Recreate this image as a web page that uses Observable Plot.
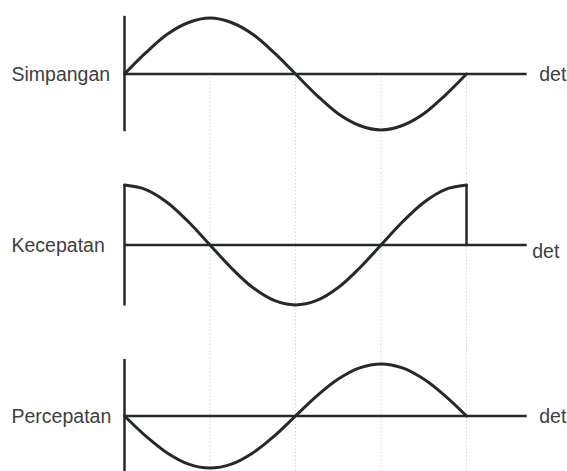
<!DOCTYPE html>
<html>
<head>
<meta charset="utf-8">
<script src="https://cdn.jsdelivr.net/npm/d3@7"></script>
<script src="https://cdn.jsdelivr.net/npm/@observablehq/plot@0.6"></script>
<style>
  html, body { margin: 0; padding: 0; background: #ffffff; }
  #chart { width: 567px; height: 471px; overflow: hidden; }
</style>
</head>
<body>
<div id="chart"></div>
<script>
// Panels (row labels) and axis unit
const panels = ["Simpangan", "Kecepatan", "Percepatan"];
const unitLabel = "det";

// Time, in quarter periods
const t = [0, 0.25, 0.5, 0.75, 1, 1.25, 1.5, 1.75, 2, 2.25, 2.5, 2.75, 3, 3.25, 3.5, 3.75, 4];

// Values (relative units)
const simpangan  = [0, 0.38, 0.71, 0.92, 1.0, 0.92, 0.71, 0.38, 0, -0.38, -0.71, -0.92, -1.0, -0.92, -0.71, -0.38, 0];
const kecepatan  = [1.07, 0.99, 0.76, 0.41, 0, -0.41, -0.76, -0.99, -1.07, -0.99, -0.76, -0.41, 0, 0.41, 0.76, 0.99, 1.07];
const percepatan = [0, -0.36, -0.66, -0.86, -0.93, -0.86, -0.66, -0.36, 0, 0.36, 0.66, 0.86, 0.93, 0.86, 0.66, 0.36, 0];

// Extent of the time axis line (in quarter periods)
const axisEnd = 4.71;
// Vertical axis extent per panel [bottom, top]
const vAxisSpan = [[-1.03, 1.03], [-1.09, 1.07], [-1.3, 1.01]];
// Faint dotted guides at quarter periods, span per panel [from, to]
const guideT = [1, 2, 3, 4];
const guideSpan = [[0, -1.8], [-1.8, 1.3], [-1.8, 1.3]];

const series = [simpangan, kecepatan, percepatan];
const rows = panels.flatMap((p, i) => t.map((tt, j) => ({panel: p, t: tt, v: series[i][j]})));
const axisRows = panels.map((p, i) => ({panel: p, y1: vAxisSpan[i][0], y2: vAxisSpan[i][1]}));
const guideRows = panels.flatMap((p, i) => guideT.map(g => ({panel: p, t: g, y1: guideSpan[i][0], y2: guideSpan[i][1]})));
const dropRows = [{panel: panels[1], t: t[t.length - 1], y1: 0, y2: kecepatan[kecepatan.length - 1]}];

const ink = "#242a2a";
const textInk = "#404040";
const chart = Plot.plot({
  width: 567,
  height: 471,
  margin: 0,
  style: {background: "#ffffff", fontFamily: "'Liberation Sans', Arial, sans-serif"},
  x: {domain: [0, 4], range: [124, 466], axis: null},
  y: {domain: [-1, 1], range: [128.5, 16.5], axis: null},
  fy: {domain: panels, range: [0, 514.5], padding: 0, axis: null},
  marks: [
    Plot.ruleX(guideRows, {fy: "panel", x: "t", y1: "y1", y2: "y2", stroke: "#d6d6d6", strokeWidth: 1, strokeDasharray: "1.5,2"}),
    Plot.ruleY(panels, {fy: d => d, y: 0, x1: 0, x2: axisEnd, stroke: ink, strokeWidth: 2.5}),
    Plot.ruleX(axisRows, {fy: "panel", x: 0, y1: "y1", y2: "y2", stroke: ink, strokeWidth: 2.5}),
    Plot.line(rows, {fy: "panel", x: "t", y: "v", z: "panel", curve: "catmull-rom", stroke: ink, strokeWidth: 3}),
    Plot.ruleX(dropRows, {fy: "panel", x: "t", y1: "y1", y2: "y2", stroke: ink, strokeWidth: 2.5}),
    Plot.text(panels, {fy: d => d, y: 0, text: d => d, frameAnchor: "left", textAnchor: "start", dx: 11, dy: 1, fontSize: 19.5, fill: textInk}),
    Plot.text([panels[0], panels[2]], {fy: d => d, x: axisEnd, y: 0, text: () => unitLabel, textAnchor: "start", dx: 12, dy: 1, fontSize: 19.5, fill: textInk}),
    Plot.text([panels[1]], {fy: d => d, x: axisEnd, y: 0, text: () => unitLabel, textAnchor: "start", dx: 5, dy: 7, fontSize: 19.5, fill: textInk})
  ]
});
document.getElementById("chart").appendChild(chart);
</script>
</body>
</html>
